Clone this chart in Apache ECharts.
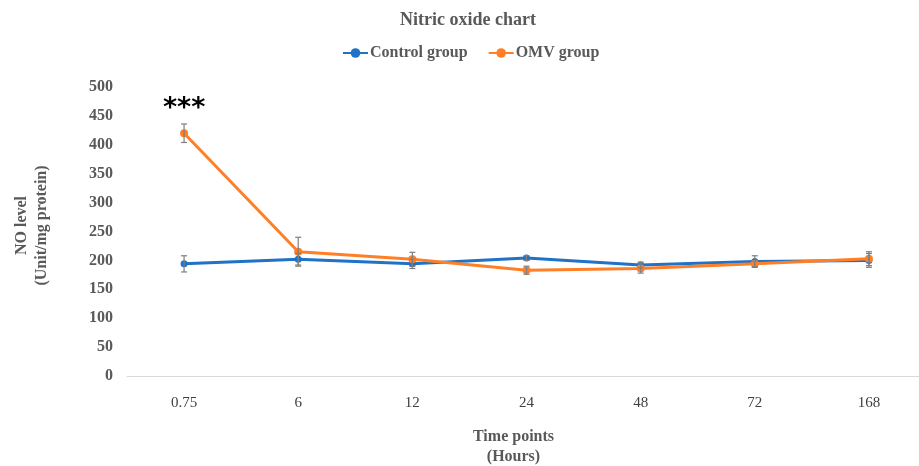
<!DOCTYPE html>
<html>
<head>
<meta charset="utf-8">
<script src="https://cdn.jsdelivr.net/npm/echarts@6/dist/echarts.min.js"></script>
<style>html,body{margin:0;padding:0;background:#fff}#c{width:919px;height:466px}</style>
</head>
<body>
<div id="c"></div>
<script>
var categories = ['0.75', '6', '12', '24', '48', '72', '168'];
var controlValues = [194, 202, 194, 204, 192, 198, 200];
var controlErrors = [14, 10, 8, 4, 5, 10, 12];
var omvValues = [420, 215, 202, 183, 186, 194, 203];
var omvErrors = [16, 25, 12, 7, 8, 5, 12];
var omvSignificance = ['***', '', '', '', '', '', ''];
var yTicks = [0, 50, 100, 150, 200, 250, 300, 350, 400, 450, 500];

var serif = '"Liberation Serif", "Times New Roman", serif';

function errorSeries(vals, errs) {
  var data = vals.map(function (v, i) { return [i, v - errs[i], v + errs[i]]; });
  return {
    type: 'custom',
    silent: true,
    z: 5,
    data: data,
    renderItem: function (params, api) {
      var x = api.value(0);
      var lo = api.coord([x, api.value(1)]);
      var hi = api.coord([x, api.value(2)]);
      var w = 3;
      var st = { stroke: '#7f7f7f', lineWidth: 1.2 };
      return {
        type: 'group',
        children: [
          { type: 'line', shape: { x1: lo[0], y1: lo[1], x2: hi[0], y2: hi[1] }, style: st },
          { type: 'line', shape: { x1: lo[0] - w, y1: lo[1], x2: lo[0] + w, y2: lo[1] }, style: st },
          { type: 'line', shape: { x1: hi[0] - w, y1: hi[1], x2: hi[0] + w, y2: hi[1] }, style: st }
        ]
      };
    }
  };
}

var chart = echarts.init(document.getElementById('c'));
chart.setOption({
  animation: false,
  title: {
    text: 'Nitric oxide chart',
    left: 395,
    top: 6,
    textStyle: { fontFamily: serif, fontSize: 18, fontWeight: 'bold', color: '#595959' }
  },
  legend: {
    top: 40,
    left: 337,
    itemWidth: 25,
    itemHeight: 12,
    itemGap: 20,
    textStyle: { fontFamily: serif, fontSize: 16, fontWeight: 'bold', color: '#595959', padding: [0, 0, 0, -3] },
    data: ['Control group', 'OMV group']
  },
  grid: { left: 127, right: -7, top: 87, bottom: 90, outerBoundsMode: 'none', containLabel: false },
  xAxis: {
    type: 'category',
    data: categories,
    boundaryGap: true,
    axisLine: { lineStyle: { color: '#d9d9d9', width: 1 } },
    axisTick: { show: false },
    axisLabel: { fontFamily: serif, fontSize: 15, color: '#404040', margin: 20 },
    name: 'Time points\n(Hours)',
    nameLocation: 'middle',
    nameGap: 51,
    nameTextStyle: { fontFamily: serif, fontSize: 16, fontWeight: 'bold', color: '#595959', lineHeight: 20, verticalAlign: 'top', padding: [0, 26, 0, 0] }
  },
  yAxis: {
    type: 'value',
    min: 0,
    max: 500,
    interval: 50,
    splitLine: { show: false },
    axisLine: { show: false },
    axisTick: { show: false },
    axisLabel: {
      fontFamily: serif, fontSize: 16, fontWeight: 'bold', color: '#595959', margin: 14,
      formatter: function (v) { return yTicks.indexOf(v) >= 0 ? String(v) : ''; }
    },
    name: 'NO level\n(Unit/mg protein)',
    nameLocation: 'middle',
    nameGap: 75,
    nameRotate: 90,
    nameTextStyle: { fontFamily: serif, fontSize: 16, fontWeight: 'bold', color: '#595959', lineHeight: 20, padding: [0, 0, 0, 12] }
  },
  series: [
    {
      name: 'Control group',
      type: 'line',
      data: controlValues,
      z: 3,
      symbol: 'circle',
      symbolSize: 7,
      itemStyle: { color: '#1f72c8' },
      lineStyle: { color: '#1f72c8', width: 3 }
    },
    {
      name: 'OMV group',
      type: 'line',
      data: omvValues,
      z: 4,
      symbol: 'circle',
      symbolSize: 8,
      itemStyle: { color: '#ff7f27' },
      lineStyle: { color: '#ff7f27', width: 3 },
      label: {
        show: true,
        position: 'top',
        distance: 7,
        fontFamily: '"DejaVu Sans", sans-serif',
        fontSize: 27,
        fontWeight: 'bold',
        color: '#000',
        formatter: function (p) { return omvSignificance[p.dataIndex]; }
      }
    },
    errorSeries(controlValues, controlErrors),
    errorSeries(omvValues, omvErrors)
  ]
});
</script>
</body>
</html>
